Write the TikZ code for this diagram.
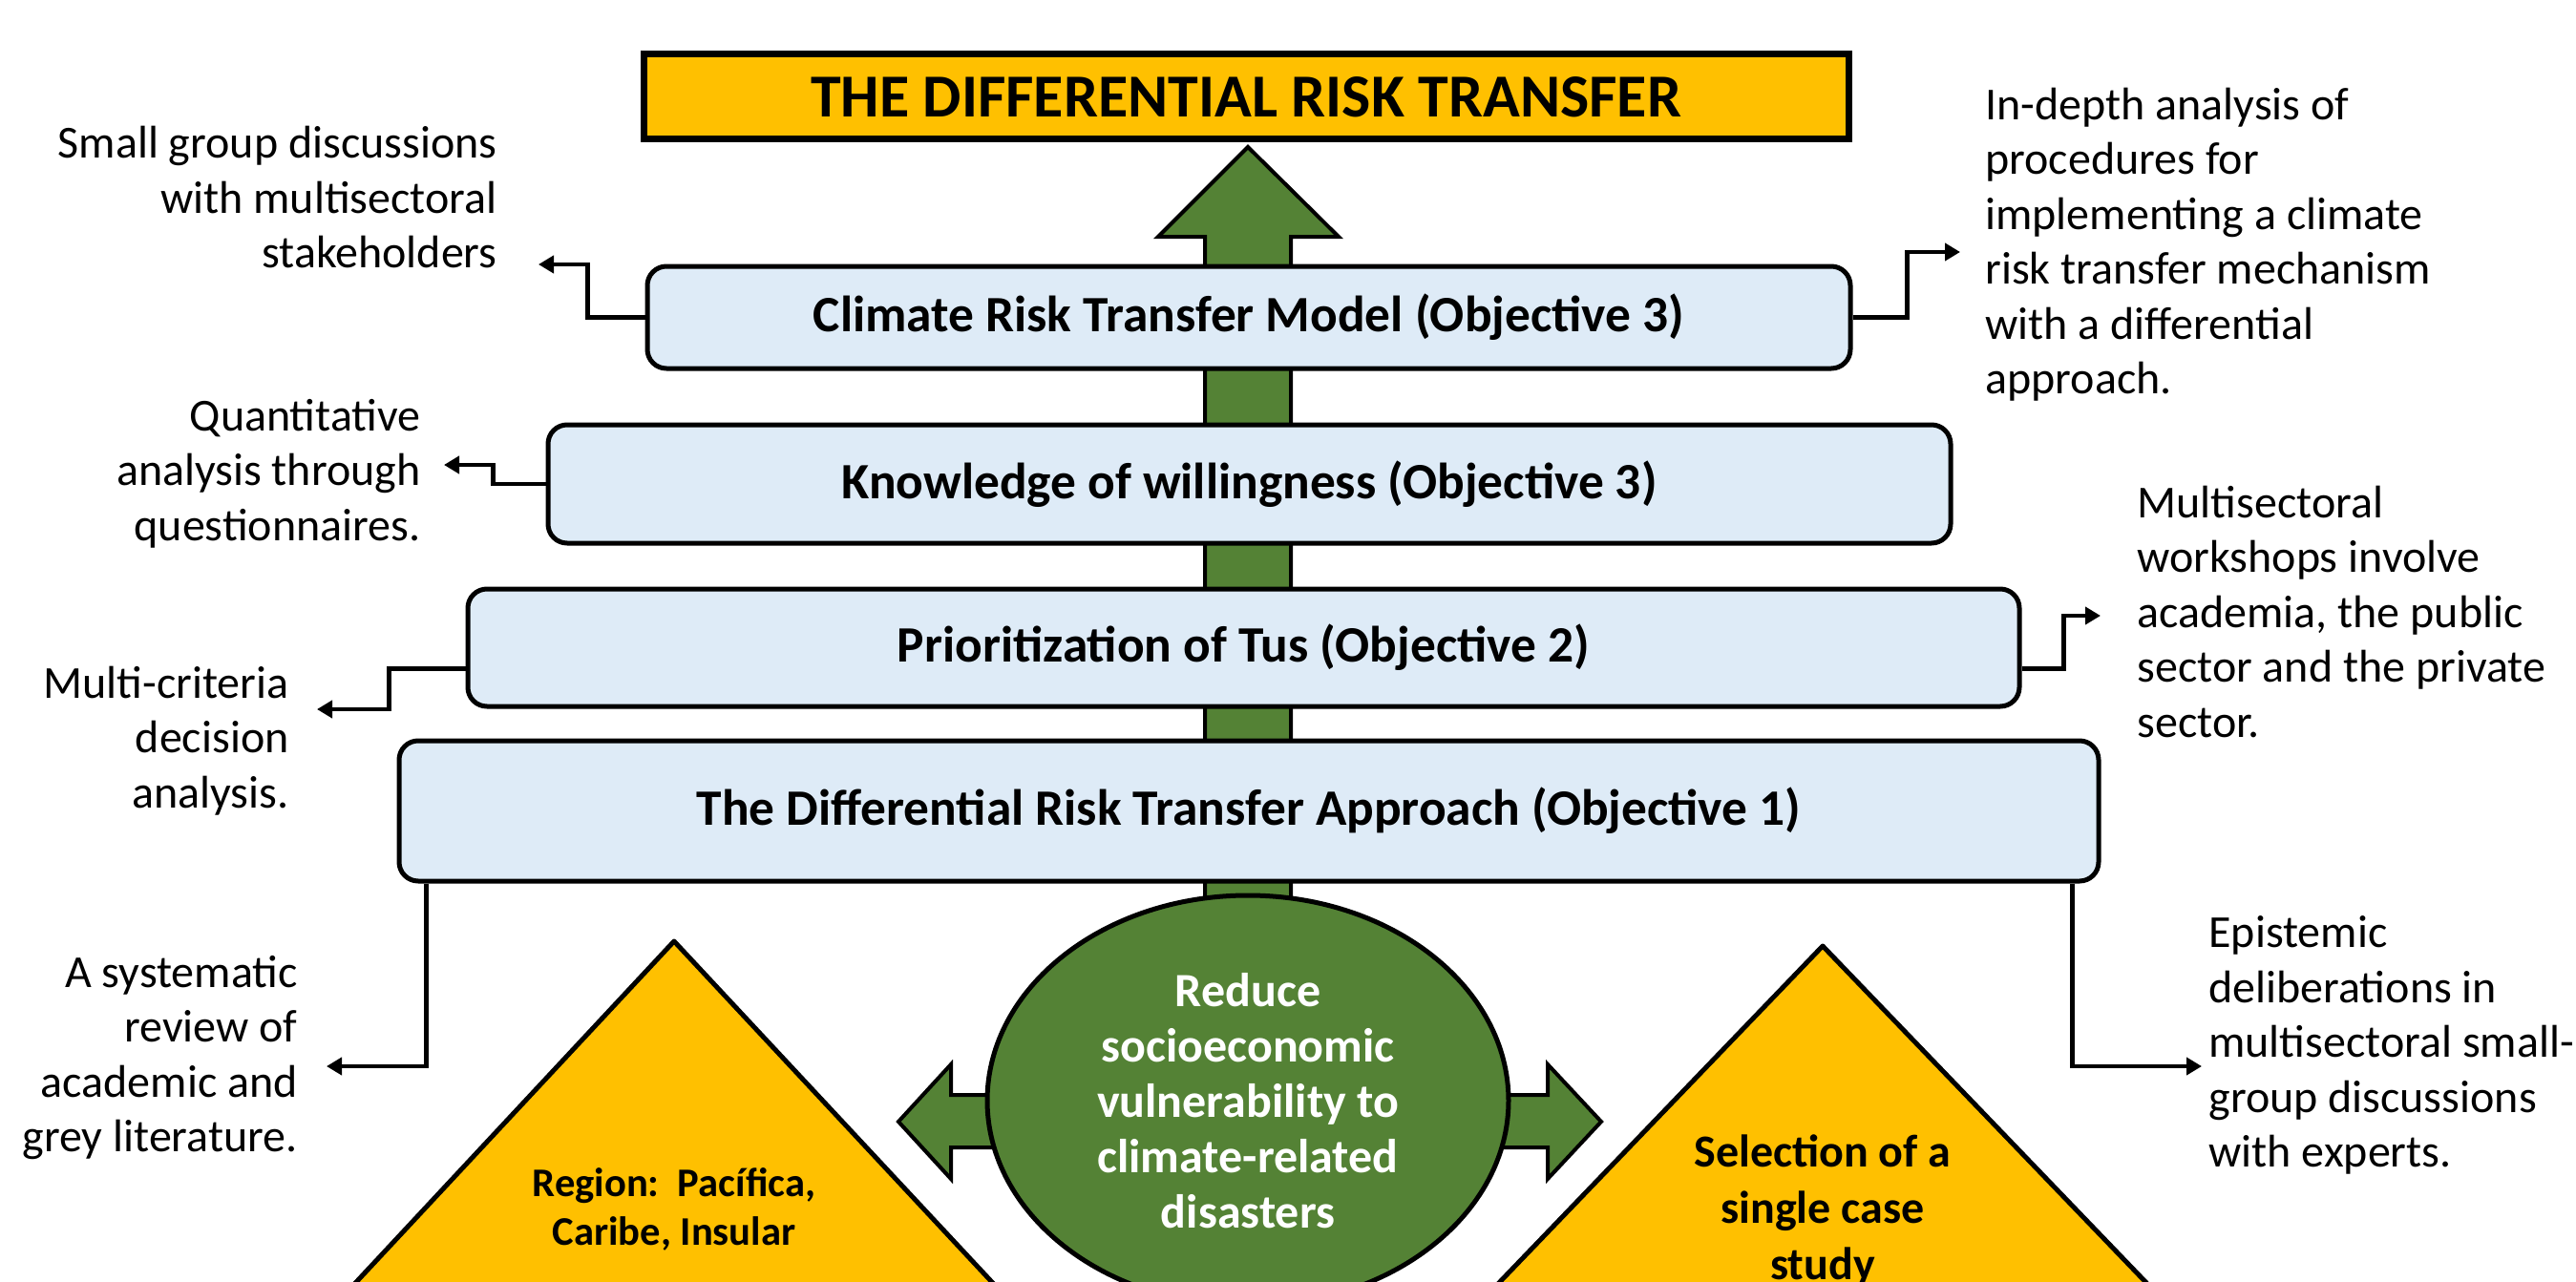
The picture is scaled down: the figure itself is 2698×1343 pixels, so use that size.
\documentclass[tikz,border=0pt]{standalone}
\usepackage{fontspec}
\setmainfont{Carlito}
\usetikzlibrary{shapes.geometric,arrows.meta}
\definecolor{gold}{HTML}{FFC000}
\definecolor{dgreen}{HTML}{548235}
\definecolor{lblue}{HTML}{DEEBF7}
\begin{document}
\begin{tikzpicture}[x=0.5pt,y=-0.5pt,
  objbox/.style={draw=black, line width=2.5pt, fill=lblue, rounded corners=10pt, inner sep=0pt,
    font=\bfseries\fontsize{26.7pt}{30pt}\selectfont},
  sidetext/.style={font=\fontsize{24pt}{28.75pt}\selectfont, inner sep=0pt},
  conn/.style={line width=2.2pt, -{Triangle[length=8pt,width=9pt]}},
  bigarrow/.style={draw=black, line width=2pt, fill=dgreen, line join=miter},
  tri/.style={draw=black, line width=2.5pt, fill=gold, line join=round}]
\useasboundingbox (0,0) rectangle (2698,1343);
\clip (0,0) rectangle (2698,1343);

% big upward arrow
\draw[bigarrow] (1307,154) -- (1402,248) -- (1352,248) -- (1352,960) -- (1262,960) -- (1262,248) -- (1213,248) -- cycle;
% side double arrow
\draw[bigarrow] (941,1175) -- (996,1115) -- (996,1147) -- (1621,1147) -- (1621,1115) -- (1677,1175) -- (1621,1235) -- (1621,1202) -- (996,1202) -- (996,1235) -- cycle;

% triangles
\draw[tri] (706,986) -- (1092,1400) -- (320,1400) -- cycle;
\draw[tri] (1909,991) -- (2302,1400) -- (1516,1400) -- cycle;

% ellipse
\node[ellipse, draw=black, line width=2.5pt, fill=dgreen, minimum width=273pt, minimum height=215pt,
  inner sep=0pt, text=white, font=\bfseries\fontsize{25pt}{29pt}\selectfont, align=center]
  (goal) at (1307,1153) {Reduce\\socioeconomic\\vulnerability to\\climate-related\\disasters};

% triangle texts
\node[font=\bfseries\fontsize{21.3pt}{25.5pt}\selectfont, align=center, inner sep=0pt] (reg) at (706,1267) {Region:\ \ Pacífica,\\Caribe, Insular};
\node[font=\bfseries\fontsize{24pt}{29.5pt}\selectfont, align=center, inner sep=0pt] (sel) at (1909,1268) {Selection of a\\single case\\study};

% title
\node[draw=black, line width=3.5pt, fill=gold, minimum width=631pt, minimum height=44.5pt, inner sep=0pt,
  font=\bfseries\fontsize{32pt}{36pt}\selectfont] (title) at (1305,101.5) {THE DIFFERENTIAL RISK TRANSFER};

% objective boxes
\node[objbox, minimum width=630pt, minimum height=53.5pt] (b1) at (1308,332.5) {Climate Risk Transfer Model (Objective 3)};
\node[objbox, minimum width=734.5pt, minimum height=62pt] (b2) at (1308.5,507) {Knowledge of willingness (Objective 3)};
\node[objbox, minimum width=812.5pt, minimum height=61.5pt] (b3) at (1302.5,678.5) {Prioritization of Tus (Objective 2)};
\node[objbox, minimum width=890pt, minimum height=73.5pt] (b4) at (1308,849.5) {The Differential Risk Transfer Approach (Objective 1)};

% side texts
\node[sidetext, anchor=east, align=right] (t1) at (521,207) {Small group discussions\\with multisectoral\\stakeholders};
\node[sidetext, anchor=east, align=right] (t2) at (441,496) {Quantitative\\analysis through\\questionnaires.};
\node[sidetext, anchor=east, align=right] (t3) at (303,776) {Multi-criteria\\decision\\analysis.};
\node[sidetext, anchor=east, align=right] (t4) at (312,1108) {A systematic\\review of\\academic and\\grey literature.};
\node[sidetext, anchor=west, align=left] (t5) at (2079,256) {In-depth analysis of\\procedures for\\implementing a climate\\risk transfer mechanism\\with a differential\\approach.};
\node[sidetext, anchor=west, align=left] (t6) at (2238,641) {Multisectoral\\workshops involve\\academia, the public\\sector and the private\\sector.};
\node[sidetext, anchor=west, align=left] (t7) at (2313,1095) {Epistemic\\deliberations in\\multisectoral small-\\group discussions\\with experts.};

% connector end points
\coordinate (a1) at (564,277);
\coordinate (a2) at (465,487);
\coordinate (a3) at (332,743);
\coordinate (a4) at (342,1117);
\coordinate (a5) at (2053,264);
\coordinate (a6) at (2200,645);
\coordinate (a7) at (2306,1117);

% connectors
\draw[conn] (b1.west) -- ++(-60,0) |- (a1);
\draw[conn] (b2.west) -- ++(-55,0) |- (a2);
\draw[conn] ([yshift=-11pt]b3.west) -- ++(-80,0) |- (a3);
\draw[conn] ([xshift=15.5pt]b4.south west) |- (a4);
\draw[conn] (b1.east) -- ++(57,0) |- (a5);
\draw[conn] ([yshift=-11pt]b3.east) -- ++(44,0) |- (a6);
\draw[conn] ([xshift=-15pt]b4.south east) |- (a7);
\end{tikzpicture}
\end{document}
